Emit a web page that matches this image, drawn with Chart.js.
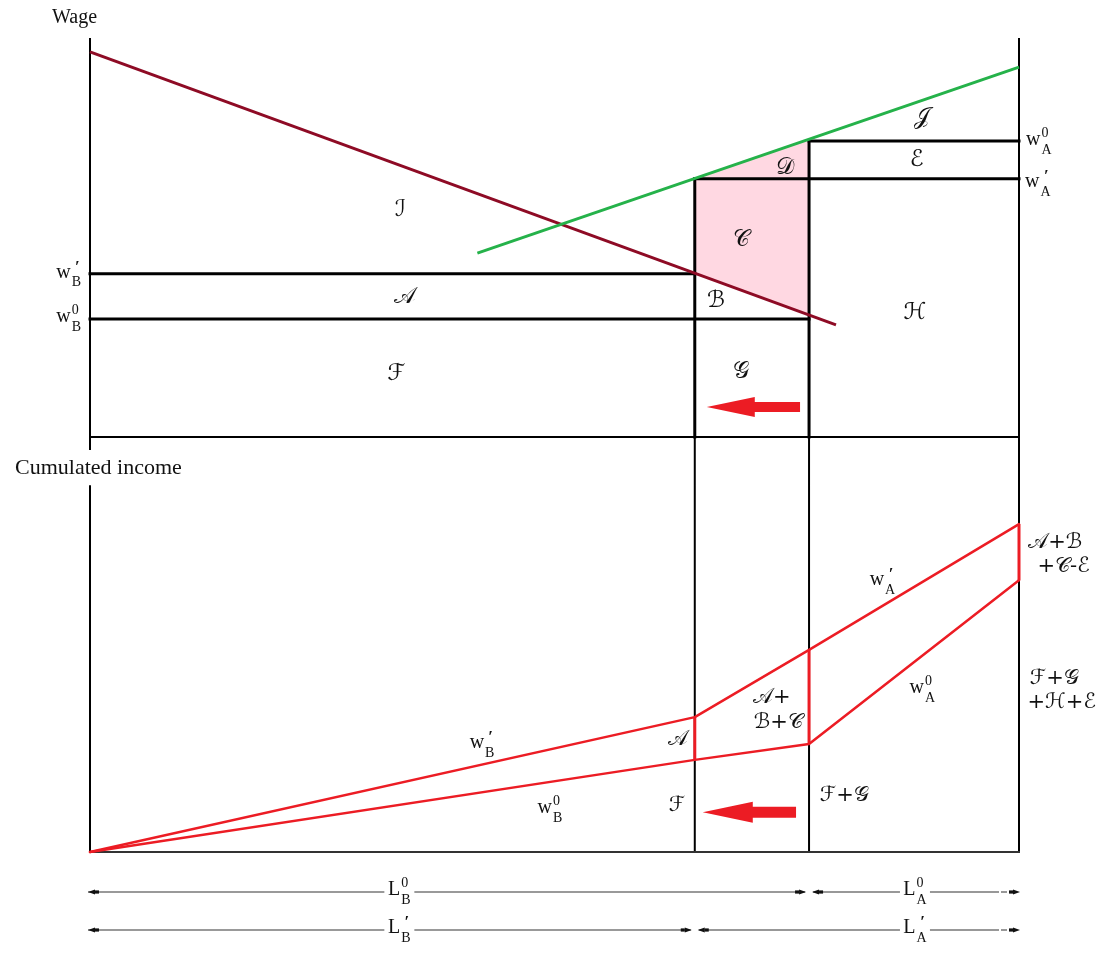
<!DOCTYPE html>
<html><head><meta charset="utf-8">
<script src="https://cdn.jsdelivr.net/npm/chart.js@4.4.0/dist/chart.umd.min.js"></script>
<style>
html,body{margin:0;padding:0;background:#fff;}
#wrap{position:relative;width:1110px;height:955px;overflow:hidden;}
#top{position:absolute;left:0;top:0;}
#bot{position:absolute;left:0;top:432px;}
</style></head><body>
<div id="wrap">
<canvas id="top" width="1110" height="455"></canvas>
<canvas id="bot" width="1110" height="523"></canvas>
</div>
<script>
// ---- data ----
const labourShares = [0, 65.1, 77.4, 100];          // origin, L'_B boundary, L0_B boundary, total labour
const wageLevels   = [29.6, 40.9, 64.7, 74.2];      // w0_B, w'_B, w'_A, w0_A
const demandBx = [0, 80.3];                           // labour demand in sector B (dark red)
const demandBy = [96.5, 28.1];
const supplyAx = [41.7, 100];                         // sector A curve (green)
const supplyAy = [46.1, 92.7];
const incomeOld = [0, 22.2, 26.0, 65.5];              // cumulated income at w0
const incomeNew = [0, 32.5, 48.7, 79.0];              // cumulated income at w'

const X0 = labourShares[0], XBn = labourShares[1], XBo = labourShares[2], XT = labourShares[3];
const wB0 = wageLevels[0], wBn = wageLevels[1], wAn = wageLevels[2], wA0 = wageLevels[3];

function interp(xs, ys, x){ const t=(x-xs[0])/(xs[1]-xs[0]); return ys[0]+t*(ys[1]-ys[0]); }
function seg(x1,y1,x2,y2){ return [{x:x1,y:y1},{x:x2,y:y2}]; }
function lineDs(data,color,width,order,extra){
  return Object.assign({data,borderColor:color,borderWidth:width,pointRadius:0,fill:false,tension:0,clip:false,order,borderCapStyle:'square',borderJoinStyle:'miter'},extra||{});
}
const BLACK='#000', DARKRED='#8E0B25', GREEN='#25B24A', RED='#EC1C24', PINK='#FFD8E2';
const SERIF='"Liberation Serif","Times New Roman",serif';
const SCRIPT='"DejaVu Serif","DejaVu Sans",serif';

function wLabel(ctx, x, y, base, sup, sub, align){
  ctx.save();
  ctx.fillStyle='#111'; ctx.textBaseline='middle'; ctx.textAlign='left';
  ctx.font='20px '+SERIF;
  const bw=ctx.measureText(base).width;
  ctx.font='14px '+SERIF;
  const sw=Math.max(ctx.measureText(sup).width, ctx.measureText(sub).width);
  const total=bw+1+sw;
  let x0 = align==='right' ? x-total : align==='center' ? x-total/2 : x;
  ctx.font='20px '+SERIF; ctx.fillText(base,x0,y-2);
  ctx.font='14px '+SERIF;
  const subw=ctx.measureText(sub).width;
  if(sup==='′'){
    ctx.font='bold 17px '+SERIF;
    const pw=ctx.measureText(sup).width;
    ctx.fillText(sup,x0+bw+1+(subw-pw)/2+1,y-7);
  } else {
    ctx.fillText(sup,x0+bw+1,y-9);
  }
  ctx.font='14px '+SERIF;
  ctx.fillText(sub,x0+bw+1,y+8);
  ctx.restore();
  return total;
}
function scriptText(ctx, txt, x, y, size){
  ctx.save(); ctx.fillStyle='#111'; ctx.textAlign='center'; ctx.textBaseline='middle';
  ctx.font=(size||20)+'px '+SCRIPT; ctx.fillText(txt,x,y); ctx.restore();
}
function bigArrow(ctx, xTip, xHead, xEnd, y, shaftH, headH){
  ctx.save(); ctx.fillStyle=RED; ctx.beginPath();
  ctx.moveTo(xTip,y);
  ctx.quadraticCurveTo(xTip+(xHead-xTip)*0.5, y-headH*0.25, xHead, y-headH/2);
  ctx.lineTo(xHead,y-shaftH/2); ctx.lineTo(xEnd,y-shaftH/2); ctx.lineTo(xEnd,y+shaftH/2); ctx.lineTo(xHead,y+shaftH/2);
  ctx.lineTo(xHead,y+headH/2);
  ctx.quadraticCurveTo(xTip+(xHead-xTip)*0.5, y+headH*0.25, xTip, y);
  ctx.closePath(); ctx.fill(); ctx.restore();
}
function tinyHead(ctx, xTip, y, dir){ // dir -1 points left, +1 points right
  ctx.save(); ctx.fillStyle='#111'; ctx.beginPath();
  ctx.moveTo(xTip,y); ctx.lineTo(xTip-dir*7,y-2.6); ctx.lineTo(xTip-dir*7,y+2.6); ctx.closePath(); ctx.fill();
  ctx.fillRect(Math.min(xTip-dir*7,xTip-dir*11),y-1.6,4,3.2);
  ctx.restore();
}

// ---- top chart: wages ----
const pinkPoly = [
  {x:XBn, y:interp(supplyAx,supplyAy,XBn)},
  {x:XBo, y:interp(supplyAx,supplyAy,XBo)},
  {x:XBo, y:interp(demandBx,demandBy,XBo)},
  {x:XBn, y:interp(demandBx,demandBy,XBn)}
];
const topDecor = {
  id:'topDecor',
  beforeDatasetsDraw(chart){
    const {ctx, chartArea:a} = chart;
    ctx.save(); ctx.strokeStyle=BLACK; ctx.lineWidth=2;
    ctx.beginPath();
    ctx.moveTo(a.left,a.top); ctx.lineTo(a.left,a.bottom+13);
    ctx.moveTo(a.right,a.top); ctx.lineTo(a.right,a.bottom+6);
    ctx.moveTo(a.left,a.bottom); ctx.lineTo(a.right,a.bottom);
    ctx.stroke(); ctx.restore();
  },
  afterDraw(chart){
    const {ctx, scales:{x,y}} = chart;
    const X=v=>x.getPixelForValue(v), Y=v=>y.getPixelForValue(v);
    ctx.save(); ctx.fillStyle='#111'; ctx.font='20px '+SERIF; ctx.textBaseline='middle'; ctx.textAlign='left';
    ctx.fillText('Wage',52,18); ctx.restore();
    wLabel(ctx, X(0)-9, Y(wBn)+1, 'w','′','B','right');
    wLabel(ctx, X(0)-9, Y(wB0)+0, 'w','0','B','right');
    wLabel(ctx, X(100)+7, Y(wA0)+1, 'w','0','A','left');
    wLabel(ctx, X(100)+6, Y(wAn)+5, 'w','′','A','left');
    const regions = [['𝒥',89.6,80.0],['ℰ',89.0,69.4],['𝒟',74.8,67.4],['ℐ',33.4,56.9],['𝒞',70.1,49.4],
      ['𝒜',33.9,35.1],['ℬ',67.4,34.1],['ℋ',88.8,31.1],['ℱ',33.0,15.8],['𝒢',70.1,16.3]];
    regions.forEach(r=>scriptText(ctx,r[0],X(r[1]),Y(r[2]),23));
    bigArrow(ctx, X(XBn)+12, X(XBn)+60, X(XBo)-9, Y(7.5), 10, 20);
  }
};
new Chart(document.getElementById('top'), {
  type:'line',
  data:{datasets:[
    lineDs(supplyAx.map((v,i)=>({x:v,y:supplyAy[i]})), GREEN, 3, 1, {borderCapStyle:'butt'}),
    lineDs(demandBx.map((v,i)=>({x:v,y:demandBy[i]})), DARKRED, 3, 2, {borderCapStyle:'butt'}),
    lineDs(seg(X0,wBn,XBn,wBn), BLACK, 3, 5),
    lineDs(seg(X0,wB0,XBo,wB0), BLACK, 3, 5),
    lineDs(seg(XBn,wAn,XT,wAn), BLACK, 3, 5),
    lineDs(seg(XBo,wA0,XT,wA0), BLACK, 3, 5),
    lineDs(seg(XBn,wAn,XBn,0), BLACK, 3, 5),
    lineDs(seg(XBo,wA0,XBo,0), BLACK, 3, 5),
    lineDs(pinkPoly, 'rgba(0,0,0,0)', 0, 20, {fill:'shape', backgroundColor:PINK})
  ]},
  options:{responsive:false, animation:false, events:[],
    layout:{padding:{left:90,right:91,top:38,bottom:18}},
    scales:{x:{type:'linear',min:0,max:100,display:false}, y:{type:'linear',min:0,max:100,display:false}},
    plugins:{legend:{display:false},tooltip:{enabled:false}}},
  plugins:[topDecor]
});

// ---- bottom chart: cumulated income ----
const botDecor = {
  id:'botDecor',
  beforeDatasetsDraw(chart){
    const {ctx, chartArea:a, scales:{x,y}} = chart;
    ctx.save(); ctx.strokeStyle=BLACK; ctx.lineWidth=2;
    ctx.beginPath();
    ctx.moveTo(a.left,y.getPixelForValue(88.4)); ctx.lineTo(a.left,a.bottom);
    ctx.moveTo(a.right,a.top); ctx.lineTo(a.right,a.bottom);
    ctx.moveTo(x.getPixelForValue(XBn),a.top); ctx.lineTo(x.getPixelForValue(XBn),a.bottom);
    ctx.moveTo(x.getPixelForValue(XBo),a.top); ctx.lineTo(x.getPixelForValue(XBo),a.bottom);
    ctx.stroke();
    ctx.strokeStyle='#333'; ctx.lineWidth=2;
    ctx.beginPath(); ctx.moveTo(a.left-1,a.bottom); ctx.lineTo(a.right+1,a.bottom); ctx.stroke();
    ctx.restore();
  },
  afterDraw(chart){
    const {ctx, chartArea:a, scales:{x,y}} = chart;
    const X=v=>x.getPixelForValue(v), Y=v=>y.getPixelForValue(v);
    ctx.save(); ctx.fillStyle='#111'; ctx.font='22px '+SERIF; ctx.textBaseline='middle'; ctx.textAlign='left';
    ctx.fillText('Cumulated income',15,a.top+31); ctx.restore();
    wLabel(ctx, X(42.2), Y(25.8), 'w','′','B','center');
    wLabel(ctx, X(49.5), Y(10.1), 'w','0','B','center');
    wLabel(ctx, X(85.3), Y(65.1), 'w','′','A','center');
    wLabel(ctx, X(89.6), Y(39.0), 'w','0','A','center');
    const labels = [['𝒜',63.3,27.0],['𝒜+',73.4,37.1],['ℬ+𝒞',74.1,31.1],['ℱ',63.2,11.3],['ℱ+𝒢',81.2,13.7],
      ['𝒜+ℬ',103.9,74.5],['+𝒞-ℰ',104.8,68.9],['ℱ+𝒢',103.8,41.7],['+ℋ+ℰ',104.6,36.1]];
    labels.forEach(r=>scriptText(ctx,r[0],X(r[1]),Y(r[2]),21));
    bigArrow(ctx, X(XBn)+8, X(XBn)+58, X(XBo)-13, Y(9.6), 11, 21);
    // dimension lines
    const rows = [
      {y:a.bottom+40, parts:[[X0,XBo,'L','0','B',X(33.3)],[XBo,XT,'L','0','A',X(88.8)]]},
      {y:a.bottom+78, parts:[[X0,XBn,'L','′','B',X(33.3)],[XBn,XT,'L','′','A',X(88.8)]]}
    ];
    rows.forEach(r=>{
      r.parts.forEach((p,i)=>{
        const x1=X(p[0]), x2=X(p[1]);
        ctx.save(); ctx.strokeStyle='#777'; ctx.lineWidth=1.5;
        ctx.beginPath(); ctx.moveTo(x1+(i===0?-2:4),r.y); ctx.lineTo(x2-(i===1?20:4),r.y);
        if(i===1){ ctx.moveTo(x2-18,r.y); ctx.lineTo(x2-12,r.y); }
        ctx.stroke();
        ctx.fillStyle='#fff'; ctx.fillRect(p[5]-15,r.y-8,30,16);
        ctx.restore();
        wLabel(ctx, p[5], r.y, p[2], p[3], p[4], 'center');
        if(i===0){ tinyHead(ctx, x1-2, r.y, -1); tinyHead(ctx, x2-3, r.y, 1); }
        else { tinyHead(ctx, x1+3, r.y, -1); tinyHead(ctx, x2+1, r.y, 1); }
      });
    });
  }
};
new Chart(document.getElementById('bot'), {
  type:'line',
  data:{datasets:[
    lineDs(labourShares.map((v,i)=>({x:v,y:incomeOld[i]})), RED, 2.5, 1, {borderCapStyle:'round',borderJoinStyle:'round'}),
    lineDs(labourShares.map((v,i)=>({x:v,y:incomeNew[i]})), RED, 2.5, 1, {borderCapStyle:'round',borderJoinStyle:'round'}),
    lineDs(seg(XBn,incomeOld[1],XBn,incomeNew[1]), RED, 3, 1, {borderCapStyle:'butt'}),
    lineDs(seg(XBo,incomeOld[2],XBo,incomeNew[2]), RED, 3, 1, {borderCapStyle:'butt'}),
    lineDs(seg(XT,incomeOld[3],XT,incomeNew[3]), RED, 3, 1, {borderCapStyle:'butt'})
  ]},
  options:{responsive:false, animation:false, events:[],
    layout:{padding:{left:90,right:91,top:5,bottom:103}},
    scales:{x:{type:'linear',min:0,max:100,display:false}, y:{type:'linear',min:0,max:100,display:false}},
    plugins:{legend:{display:false},tooltip:{enabled:false}}},
  plugins:[botDecor]
});
</script>
</body></html>
